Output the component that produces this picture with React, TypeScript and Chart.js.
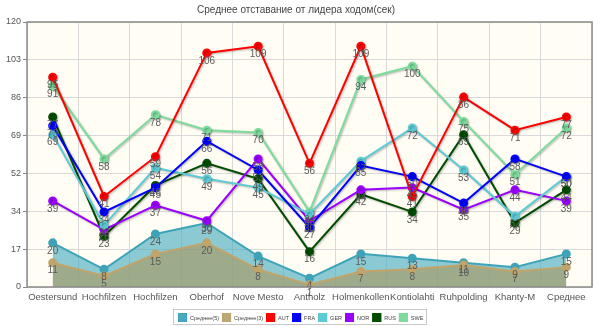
import React, { useEffect, useRef } from 'react';
import { Chart, registerables } from 'chart.js';

Chart.register(...registerables);

const categories = ['Oestersund', 'Hochfilzen', 'Hochfilzen', 'Oberhof', 'Nove Mesto', 'Antholz', 'Holmenkollen', 'Kontiolahti', 'Ruhpolding', 'Khanty-M', 'Среднее'];
const avg5 = [20, 8, 24, 29, 14, 4, 15, 13, 11, 9, 15];
const avg3 = [11, 5, 15, 20, 8, 1, 7, 8, 10, 7, 9];
const aut = [95, 41, 59, 106, 109, 56, 109, 41, 86, 71, 77];
const fra = [73, 34, 45, 66, 53, 27, 55, 50, 38, 58, 50];
const ger = [69, 28, 54, 49, 45, 33, 57, 72, 53, 32, 50];
const nor = [39, 26, 37, 30, 58, 30, 44, 45, 35, 44, 39];
const rus = [77, 23, 46, 56, 49, 16, 42, 34, 69, 29, 44];
const swe = [91, 58, 78, 71, 70, 34, 94, 100, 75, 51, 72];
const yTickLabels = ['0', '17', '34', '52', '69', '86', '103', '120'];
const yMax = 120;
const title = 'Среднее отставание от лидера ходом(сек)';

const FONT = '"Liberation Sans", Arial, sans-serif';

const bgPlugin = {
  id: 'bgPlugin',
  beforeDraw(chart: any) {
    const { ctx, chartArea: a } = chart;
    ctx.save();
    ctx.fillStyle = '#ffffff';
    ctx.fillRect(0, 0, chart.width, chart.height);
    ctx.fillStyle = '#fffdf4';
    ctx.fillRect(a.left, a.top, a.right - a.left, a.bottom - a.top);
    ctx.restore();
  },
  beforeDatasetDraw(chart: any, args: any) {
    const ds = chart.data.datasets[args.index];
    if (ds.fill && ds.fill !== false) return;
    const ctx = chart.ctx;
    ctx.save();
    ctx.shadowColor = 'rgba(0,0,0,0.28)';
    ctx.shadowBlur = 2;
    ctx.shadowOffsetX = 1;
    ctx.shadowOffsetY = 1;
  },
  afterDatasetDraw(chart: any, args: any) {
    const ds = chart.data.datasets[args.index];
    if (ds.fill && ds.fill !== false) return;
    chart.ctx.restore();
  },
  afterDraw(chart: any) {
    const { ctx, chartArea: a } = chart;
    ctx.save();
    ctx.strokeStyle = '#8a8a8a';
    ctx.lineWidth = 1.5;
    ctx.strokeRect(a.left, a.top, a.right - a.left, a.bottom - a.top);

    // legend
    const boxW = 9, boxH = 9, gapIn = 3, gapOut = 3;
    ctx.font = '5.5px ' + FONT;
    const items = chart.data.datasets.map((ds: any) => ({
      label: ds.label, fill: ds.legendFill || ds.backgroundColor, stroke: ds.borderColor,
      w: ctx.measureText(ds.label).width,
    }));
    const total = items.reduce((s: number, it: any) => s + boxW + gapIn + it.w, 0) + gapOut * (items.length - 1);
    const cx = chart.width / 2 + 1;
    let x = Math.round(cx - total / 2);
    const by = 313;
    ctx.strokeStyle = '#c8c8c8';
    ctx.lineWidth = 1;
    ctx.strokeRect(x - 4.5, by - 3.5, Math.round(total + 8), boxH + 6);
    ctx.textBaseline = 'middle';
    ctx.textAlign = 'left';
    items.forEach((it: any) => {
      ctx.fillStyle = it.fill;
      ctx.fillRect(x, by, boxW, boxH);
      ctx.strokeStyle = it.stroke;
      ctx.strokeRect(x + 0.5, by + 0.5, boxW - 1, boxH - 1);
      ctx.fillStyle = '#444';
      ctx.fillText(it.label, x + boxW + gapIn, by + boxH / 2 + 0.5);
      x += boxW + gapIn + it.w + gapOut;
    });
    ctx.restore();
  },
};

const labelPlugin = {
  id: 'valueLabels',
  afterDatasetsDraw(chart: any) {
    const { ctx } = chart;
    ctx.save();
    ctx.font = '10px ' + FONT;
    ctx.fillStyle = '#5a5a5a';
    ctx.textAlign = 'center';
    ctx.textBaseline = 'top';
    chart.data.datasets.forEach((ds: any, i: number) => {
      const meta = chart.getDatasetMeta(i);
      if (meta.hidden) return;
      meta.data.forEach((pt: any, j: number) => {
        ctx.fillText(String(ds.data[j]), pt.x, pt.y + 3);
      });
    });
    ctx.restore();
  },
};

function line(label: string, data: number[], color: string) {
  return {
    label,
    data,
    borderColor: color,
    backgroundColor: color,
    pointBackgroundColor: color,
    pointBorderColor: color,
    borderWidth: 2,
    pointRadius: 3.5,
    fill: false,
    tension: 0,
    order: 1,
  };
}

export default function App() {
  const ref = useRef<HTMLCanvasElement>(null);
  useEffect(() => {
    if (!ref.current) return;
    const chart = new Chart(ref.current, {
      type: 'line',
      data: {
        labels: categories,
        datasets: [
          {
            label: 'Среднее(5)', data: avg5, borderColor: '#3fa3b8', backgroundColor: 'rgba(64,168,188,0.6)',
            legendFill: '#4aaabd',
            pointBackgroundColor: '#3fa3b8', pointBorderColor: '#3fa3b8', borderWidth: 2, pointRadius: 3.5,
            fill: 'origin', tension: 0, order: 10,
          } as any,
          {
            label: 'Среднее(3)', data: avg3, borderColor: '#c1a469', backgroundColor: 'rgba(170,150,90,0.6)',
            legendFill: '#bba877',
            pointBackgroundColor: '#c1a469', pointBorderColor: '#c1a469', borderWidth: 2, pointRadius: 3.5,
            fill: 'origin', tension: 0, order: 9,
          } as any,
          line('AUT', aut, '#ff0000'),
          line('FRA', fra, '#0000ff'),
          line('GER', ger, '#5ccbd6'),
          line('NOR', nor, '#9b00ff'),
          line('RUS', rus, '#004d00'),
          line('SWE', swe, '#7ddc9c'),
        ],
      },
      options: {
        animation: false,
        responsive: true,
        maintainAspectRatio: false,
        layout: { padding: { left: 0, right: 8, top: 0, bottom: 19 } },
        plugins: {
          title: {
            display: true, text: title, color: '#444',
            font: { family: FONT, size: 10, weight: 'normal' },
            padding: { top: 4, bottom: 6 },
          },
          legend: { display: false },
          tooltip: { enabled: false },
        },
        scales: {
          x: {
            offset: true,
            grid: { offset: true, color: '#d9d9d9', drawTicks: false },
            border: { display: false },
            afterFit: (s: any) => { s.height = 21; },
            ticks: { color: '#555', font: { family: FONT, size: 9.5 }, padding: 5, maxRotation: 0, autoSkip: false },
          },
          y: {
            min: 0, max: yMax,
            afterBuildTicks: (s: any) => {
              s.ticks = yTickLabels.map((_, i) => ({ value: (yMax * i) / (yTickLabels.length - 1) }));
            },
            afterFit: (s: any) => { s.width = 27; },
            grid: { color: '#d9d9d9', tickLength: 4, tickColor: '#888' },
            border: { display: false },
            ticks: {
              color: '#555', font: { family: FONT, size: 9 }, padding: 2,
              callback: (_v: any, i: number) => yTickLabels[i],
            },
          },
        },
      },
      plugins: [bgPlugin, labelPlugin],
    });
    return () => chart.destroy();
  }, []);
  return (
    <div style={{ position: 'fixed', left: 0, top: 0, width: 600, height: 327, background: '#fff' }}>
      <canvas ref={ref} />
    </div>
  );
}
